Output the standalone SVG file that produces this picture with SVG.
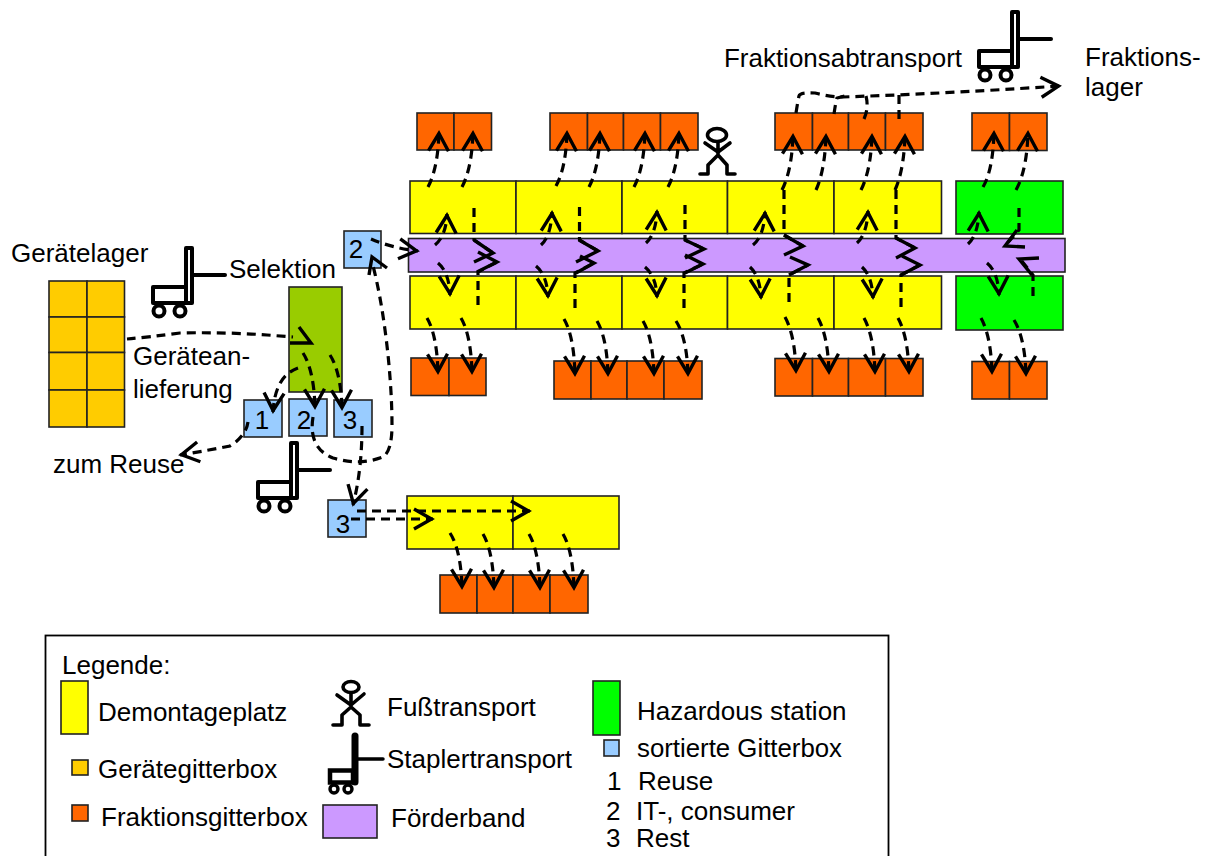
<svg xmlns="http://www.w3.org/2000/svg" width="1210" height="856" viewBox="0 0 1210 856">
<style>
text{font-family:"Liberation Sans",Arial,sans-serif;font-size:26px;fill:#000}
.b{stroke:#222;stroke-width:1.6}
.y{fill:#FFFF00}.o{fill:#FF6600}.g{fill:#00FF00}.a{fill:#FFCC00}.l{fill:#99CCFF}.p{fill:#CC99FF}.s{fill:#99CC00}
.c{fill:none;stroke:#000;stroke-width:3.2;stroke-dasharray:9 6}
.h{fill:none;stroke:#000;stroke-width:3.4;stroke-linejoin:miter}
.k{fill:none;stroke:#000;stroke-width:3.6;stroke-linecap:round;stroke-linejoin:round}
.m{marker-end:url(#v)}
</style>
<defs>
<marker id="v" markerUnits="userSpaceOnUse" markerWidth="26" markerHeight="28" refX="21.500" refY="14" orient="auto">
<path d="M2.500 4L20 14L2.500 24" fill="none" stroke="#000" stroke-width="3.400"/>
</marker>
<g id="fork">
<rect x="979" y="51" width="35" height="16" fill="#fff" stroke="#000" stroke-width="4" stroke-linejoin="round"/>
<rect x="1012" y="12" width="6" height="55" fill="#fff" stroke="#000" stroke-width="4" stroke-linejoin="round"/>
<path d="M1020 39H1051" stroke="#000" stroke-width="4" stroke-linecap="round"/>
<circle cx="985" cy="75" r="5.500" fill="#fff" stroke="#000" stroke-width="4"/>
<circle cx="1006" cy="75" r="5.500" fill="#fff" stroke="#000" stroke-width="4"/>
</g>
</defs>
<rect width="1210" height="856" fill="#fff"/>

<g id="lager">
<rect class="b a" x="49" y="281" width="38" height="36"/><rect class="b a" x="87" y="281" width="37.500" height="36"/>
<rect class="b a" x="49" y="317" width="38" height="35.500"/><rect class="b a" x="87" y="317" width="37.500" height="35.500"/>
<rect class="b a" x="49" y="352.500" width="38" height="37.500"/><rect class="b a" x="87" y="352.500" width="37.500" height="37.500"/>
<rect class="b a" x="49" y="390" width="38" height="37"/><rect class="b a" x="87" y="390" width="37.500" height="37"/>
<text x="11" y="262">Gerätelager</text>
</g>
<g id="selektion"><rect class="b s" x="289" y="287" width="53" height="105"/><text x="229" y="278" textLength="107" lengthAdjust="spacingAndGlyphs">Selektion</text></g>
<g id="anlieferung"><text x="133" y="365">Gerätean-</text><text x="133" y="398">lieferung</text></g>
<g id="reuse"><text x="53" y="473">zum Reuse</text></g>

<g id="topboxes">
<rect class="b o" x="417" y="113" width="37" height="37"/><rect class="b o" x="454" y="113" width="37.500" height="37"/>
<rect class="b o" x="550" y="113" width="37.500" height="37"/><rect class="b o" x="587.500" y="113" width="36" height="37"/><rect class="b o" x="623.500" y="113" width="37" height="37"/><rect class="b o" x="660.500" y="113" width="37.500" height="37"/>
<rect class="b o" x="775" y="113" width="37.500" height="37"/><rect class="b o" x="812.500" y="113" width="36" height="37"/><rect class="b o" x="848.500" y="113" width="37" height="37"/><rect class="b o" x="885.500" y="113" width="37.500" height="37"/>
<rect class="b o" x="972" y="113" width="37.500" height="37.500"/><rect class="b o" x="1009.500" y="113" width="37.500" height="37.500"/>
</g>
<g id="topstations">
<rect class="b y" x="410" y="181" width="106" height="52.500"/><rect class="b y" x="516" y="181" width="106" height="52.500"/><rect class="b y" x="622" y="181" width="105.500" height="52.500"/><rect class="b y" x="727.500" y="181" width="106.500" height="52.500"/><rect class="b y" x="834" y="181" width="107.500" height="52.500"/>
<rect class="b g" x="956" y="181" width="107" height="53"/>
</g>
<g id="foerderband"><rect class="b p" x="408.500" y="238.500" width="656.500" height="33.500"/></g>
<g id="bottomstations">
<rect class="b y" x="410" y="276" width="106" height="53"/><rect class="b y" x="516" y="276" width="106" height="53"/><rect class="b y" x="622" y="276" width="105.500" height="53"/><rect class="b y" x="727.500" y="276" width="106.500" height="53"/><rect class="b y" x="834" y="276" width="107.500" height="53"/>
<rect class="b g" x="956" y="276" width="107" height="54"/>
</g>
<g id="bottomboxes">
<rect class="b o" x="411" y="358" width="38" height="37.500"/><rect class="b o" x="449" y="358" width="37" height="37.500"/>
<rect class="b o" x="554" y="361" width="37" height="38"/><rect class="b o" x="591" y="361" width="36" height="38"/><rect class="b o" x="627" y="361" width="37" height="38"/><rect class="b o" x="664" y="361" width="38" height="38"/>
<rect class="b o" x="775" y="358.500" width="37.500" height="37.500"/><rect class="b o" x="812.500" y="358.500" width="36" height="37.500"/><rect class="b o" x="848.500" y="358.500" width="37" height="37.500"/><rect class="b o" x="885.500" y="358.500" width="37.500" height="37.500"/>
<rect class="b o" x="972" y="361.500" width="37.500" height="37.500"/><rect class="b o" x="1009.500" y="361.500" width="37.500" height="37.500"/>
</g>
<g id="sort1"><rect class="b l" x="244" y="400" width="38" height="37"/><text x="262" y="429" text-anchor="middle">1</text></g>
<g id="sort2"><rect class="b l" x="289" y="399" width="38" height="37"/><text x="304" y="429" text-anchor="middle">2</text></g>
<g id="sort3"><rect class="b l" x="334" y="400" width="38" height="37"/><text x="350" y="429" text-anchor="middle">3</text></g>
<g id="sort2b"><rect class="b l" x="344" y="231" width="37" height="37"/><text x="356" y="258" text-anchor="middle">2</text></g>
<g id="sort3b"><rect class="b l" x="328" y="500" width="38" height="37"/><text x="343" y="533" text-anchor="middle">3</text></g>
<g id="rest">
<rect class="b y" x="407" y="496" width="106" height="53"/><rect class="b y" x="513" y="496" width="106" height="53"/>
<rect class="b o" x="440" y="575" width="37" height="38"/><rect class="b o" x="477" y="575" width="36" height="38"/><rect class="b o" x="513" y="575" width="37" height="38"/><rect class="b o" x="550" y="575" width="38" height="38"/>
</g>

<g id="connectors">
<!-- up to top boxes -->
<path class="c m" d="M428 187Q438 168 439 132"/><path class="c m" d="M462 187Q472 168 473 132"/>
<path class="c m" d="M556 186Q566 168 567 132"/><path class="c m" d="M589 187Q599 168 600 132"/><path class="c m" d="M634 187Q644 168 645 132"/><path class="c m" d="M668 187Q678 168 679 132"/>
<path class="c m" d="M782 190Q792 170 793 135"/><path class="c m" d="M816 190Q825 170 826 135"/><path class="c m" d="M861 190Q871 170 872 135"/><path class="c m" d="M895 190Q904 170 905 135"/>
<path class="c m" d="M983 187Q993 170 994 132"/><path class="c m" d="M1016 190Q1027 170 1028 132"/>
<!-- belt to top stations -->
<path class="c m" d="M435 245Q446 236 447 214"/><path class="c m" d="M541 245Q551 236 552 212"/><path class="c m" d="M646 243Q656 234 657 211"/><path class="c m" d="M753 245Q764 236 765 212"/><path class="c m" d="M857 243Q867 234 868 211"/><path class="c m" d="M968 244Q978 235 979 212"/>
<!-- belt to bottom stations -->
<path class="c m" d="M438 263Q449 272 450 295"/><path class="c m" d="M536 266Q547 275 548 297"/><path class="c m" d="M645 267Q656 276 657 297"/><path class="c m" d="M750 267Q760 276 761 298"/><path class="c m" d="M862 267Q872 276 873 298"/><path class="c m" d="M987 263Q998 272 999 295"/>
<!-- station to bottom boxes -->
<path class="c m" d="M427 318Q437 335 438 373"/><path class="c m" d="M461 318Q471 335 472 373"/>
<path class="c m" d="M564 319Q574 336 575 375"/><path class="c m" d="M597 321Q607 338 608 375"/><path class="c m" d="M643 321Q653 338 654 375"/><path class="c m" d="M676 321Q687 338 688 375"/>
<path class="c m" d="M785 317Q795 335 796 372"/><path class="c m" d="M818 318Q828 336 829 373"/><path class="c m" d="M864 318Q874 336 875 373"/><path class="c m" d="M898 318Q908 336 909 373"/>
<path class="c m" d="M981 318Q991 336 992 373"/><path class="c m" d="M1014 320Q1025 338 1026 375"/>
<!-- station feeds onto belt -->
<path class="c" d="M474 208V240L493 253"/><path class="h" d="M474 240L493 253L474 262"/>
<path class="c" d="M478 305V272L497 262"/><path class="h" d="M477 272L497 262L478 252"/>
<path class="c" d="M579.500 207V240L598 251"/><path class="h" d="M579 240L598 251L576 262"/>
<path class="c" d="M575 308V273L594 263"/><path class="h" d="M576 273L594 263L580 256"/>
<path class="c" d="M685 205V240L704 249"/><path class="h" d="M685 240L704 249L685 258"/>
<path class="c" d="M684 308V273L703 264"/><path class="h" d="M685 273L703 264L685 255"/>
<path class="c" d="M784 190V235L803 246"/><path class="h" d="M784 235L803 246L784 255"/>
<path class="c" d="M789 302V275L808 265"/><path class="h" d="M789 275L808 265L790 257"/>
<path class="c" d="M896 190V238L915 248"/><path class="h" d="M896 238L915 248L896 258"/>
<path class="c" d="M901 307V275L920 265"/><path class="h" d="M901 275L920 265L902 256"/>
<path class="c" d="M1019 208V230L1005 246"/><path class="h" d="M1017 230L1005 246L1025 247"/>
<path class="c" d="M1033 296V275L1021 260"/><path class="h" d="M1039 258L1019 259L1032 275"/>
<!-- Fraktionsabtransport -->
<path class="c m" d="M796 113Q798 100 799 96Q800 92 815 93Q830 97 843 97Q870 96 897 95Q985 91 1060 86"/>
<path class="c" d="M834 114Q836 100 837 98L845 96"/><path class="c" d="M864 119Q869 108 866 96"/><path class="c" d="M899 119V95"/>
<!-- left side -->
<path class="c" d="M127 339Q150 337 180 333Q225 332 267 335L293 337"/><path class="h" d="M290 343H311L299 327"/>
<path class="c m" d="M298 368Q275 376 273 412"/>
<path class="c m" d="M303 353Q314 370 315 408"/>
<path class="c m" d="M330 355Q341 372 342 409"/>
<path class="c m" d="M248 422Q246 436 230 446Q210 450 180 455"/>
<path class="c" d="M313 417Q308 448 333 458Q360 466 383 457Q392 451 392 425C392 380 385 310 372 262"/><path class="h" d="M369 275L372 257L387 268"/>
<path class="c m" d="M362 426Q362 470 353 505"/>
<path class="c m" d="M371 239Q392 248 418 251"/>
<path class="c m" d="M357 511H530"/><path class="c m" d="M351 519H433"/>
<path class="c m" d="M450 533Q461 550 462 588"/><path class="c m" d="M483 534Q493 551 494 589"/><path class="c m" d="M529 534Q539 551 540 589"/><path class="c m" d="M563 534Q573 551 574 589"/>
</g>

<g id="stapler-a"><use href="#fork"/></g>
<g id="stapler-b"><use href="#fork" transform="translate(-826 236)"/></g>
<g id="stapler-c"><use href="#fork" transform="translate(-721 431)"/></g>
<g id="fuss"><ellipse class="k" cx="717" cy="135" rx="9.500" ry="6.500"/><path class="k" d="M705 143L718 152L730 143M718 142V155L708 165V174H700M718 155L727 165V174H735"/></g>

<g id="labels-top">
<text x="724" y="67" textLength="238" lengthAdjust="spacingAndGlyphs">Fraktionsabtransport</text>
<text x="1085" y="66">Fraktions-</text><text x="1085" y="96">lager</text>
</g>

<g id="legende">
<rect x="45.500" y="635.500" width="843" height="230" fill="none" stroke="#000" stroke-width="1.800"/>
<text x="62" y="674">Legende:</text>
<rect class="b y" x="61" y="681" width="27" height="53"/><text x="98" y="721">Demontageplatz</text>
<rect class="b a" x="72" y="760" width="16" height="15"/><text x="98" y="778">Gerätegitterbox</text>
<rect class="b o" x="72" y="805" width="16" height="16"/><text x="101" y="826">Fraktionsgitterbox</text>
<ellipse class="k" cx="351" cy="687" rx="8" ry="5.500"/><path class="k" d="M337 695L351 705L364 694M351 693V707L342 715V725H333M351 707L360 715V725H369"/>
<text x="387" y="716">Fußtransport</text>
<path d="M355 736V782" fill="none" stroke="#000" stroke-width="7" stroke-linecap="round"/>
<path d="M357 759H383" fill="none" stroke="#000" stroke-width="3.500" stroke-linecap="round"/>
<rect x="330" y="770.500" width="23" height="12" fill="#fff" stroke="#000" stroke-width="4.500"/>
<circle cx="334" cy="789" r="4" fill="#fff" stroke="#000" stroke-width="3.400"/><circle cx="348" cy="789" r="4" fill="#fff" stroke="#000" stroke-width="3.400"/>
<text x="387" y="768">Staplertransport</text>
<rect class="b p" x="323" y="805" width="54" height="33"/><text x="391" y="827">Förderband</text>
<rect class="b g" x="593" y="681" width="27" height="54"/><text x="637" y="720">Hazardous station</text>
<rect class="b l" x="604" y="740" width="15" height="16"/><text x="637" y="757" textLength="205" lengthAdjust="spacingAndGlyphs">sortierte Gitterbox</text>
<text x="607" y="790">1</text><text x="638" y="790">Reuse</text>
<text x="606" y="820">2</text><text x="636" y="820">IT-, consumer</text>
<text x="606" y="847">3</text><text x="636" y="847">Rest</text>
</g>
</svg>
